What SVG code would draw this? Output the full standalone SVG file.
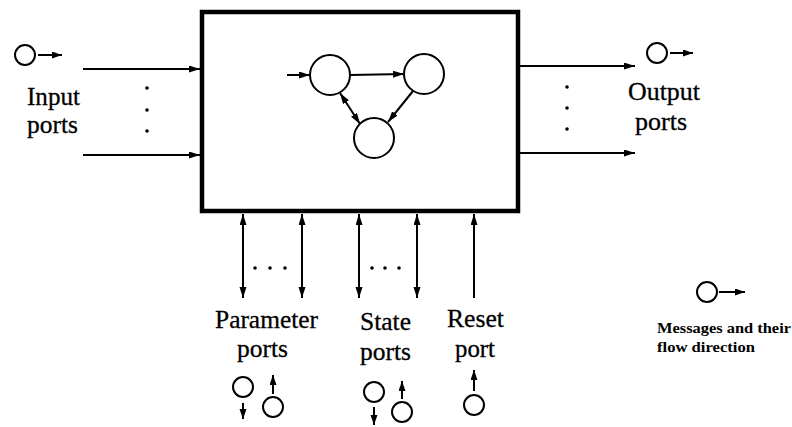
<svg xmlns="http://www.w3.org/2000/svg" width="792" height="427" viewBox="0 0 792 427">
<style>
.ln{stroke:#000;stroke-width:2;fill:none}
.ar{marker-end:url(#ah)}
.dbl{marker-start:url(#ah);marker-end:url(#ah)}
.sm{marker-end:url(#sh)}
.nd{fill:#fff;stroke:#000;stroke-width:2}
.msg{fill:#fff;stroke:#000;stroke-width:2}
.lbl{font-family:"Liberation Serif","Times New Roman",serif;font-size:26px;fill:#000;stroke:#000;stroke-width:0.3}
.leg{font-family:"Liberation Serif","Times New Roman",serif;font-size:15px;font-weight:bold;fill:#000}
.dot{fill:#000}
</style>
<defs>
<marker id="ah" markerUnits="userSpaceOnUse" markerWidth="12" markerHeight="8" refX="11" refY="3.5" orient="auto-start-reverse"><path d="M0,0 L11,3.5 L0,7 z" fill="#000"/></marker>
<marker id="sh" markerUnits="userSpaceOnUse" markerWidth="11" markerHeight="8" refX="10" refY="3.5" orient="auto-start-reverse"><path d="M0,0 L10,3.5 L0,7 z" fill="#000"/></marker>
</defs>
<g id="block">
<rect x="202" y="12" width="316" height="199" fill="#fff" stroke="#000" stroke-width="4.5"/>
</g>
<g id="n1"><circle class="nd" cx="330" cy="75" r="20"/></g>
<g id="n2"><circle class="nd" cx="424" cy="74" r="20"/></g>
<g id="n3"><circle class="nd" cx="374" cy="138" r="20"/></g>
<g id="connectors">
<line class="ln ar" x1="287" y1="75" x2="310" y2="75"/>
<line class="ln ar" x1="350" y1="75" x2="404" y2="74"/>
<line class="ln ar" x1="413" y1="91" x2="388" y2="122"/>
<line class="ln dbl" x1="340" y1="93" x2="360" y2="124"/>
<line class="ln ar" x1="83" y1="69" x2="200" y2="69"/>
<line class="ln ar" x1="83" y1="155" x2="200" y2="155"/>
<line class="ln ar" x1="520" y1="66" x2="635" y2="66"/>
<line class="ln ar" x1="520" y1="153" x2="635" y2="153"/>
<line class="ln dbl" x1="243" y1="214" x2="243" y2="298"/>
<line class="ln dbl" x1="302" y1="214" x2="302" y2="298"/>
<line class="ln dbl" x1="359" y1="214" x2="359" y2="298"/>
<line class="ln dbl" x1="417" y1="214" x2="417" y2="298"/>
<line class="ln" x1="474" y1="298" x2="474" y2="214" style="marker-end:url(#ah)"/>
</g>
<g id="dots">
<circle class="dot" cx="147" cy="88" r="1.8"/><circle class="dot" cx="147" cy="110" r="1.8"/><circle class="dot" cx="147" cy="131" r="1.8"/>
<circle class="dot" cx="567" cy="87" r="1.8"/><circle class="dot" cx="567" cy="108" r="1.8"/><circle class="dot" cx="567" cy="129" r="1.8"/>
<circle class="dot" cx="255" cy="268" r="1.8"/><circle class="dot" cx="270" cy="268" r="1.8"/><circle class="dot" cx="285" cy="268" r="1.8"/>
<circle class="dot" cx="372" cy="268" r="1.8"/><circle class="dot" cx="385" cy="268" r="1.8"/><circle class="dot" cx="399" cy="268" r="1.8"/>
</g>
<g id="input-ports">
<text class="lbl" x="27" y="105" textLength="53" lengthAdjust="spacingAndGlyphs">Input</text>
<text class="lbl" x="27" y="133" textLength="51" lengthAdjust="spacingAndGlyphs">ports</text>
<circle class="msg" cx="25" cy="55" r="10"/>
<line class="ln sm" x1="38" y1="55" x2="62" y2="55"/>
</g>
<g id="output-ports">
<text class="lbl" x="628" y="100" textLength="72" lengthAdjust="spacingAndGlyphs">Output</text>
<text class="lbl" x="635" y="130" textLength="52" lengthAdjust="spacingAndGlyphs">ports</text>
<circle class="msg" cx="657" cy="53" r="10"/>
<line class="ln sm" x1="670" y1="53" x2="693" y2="53"/>
</g>
<g id="parameter-ports">
<text class="lbl" x="215" y="328" textLength="103" lengthAdjust="spacingAndGlyphs">Parameter</text>
<text class="lbl" x="237" y="357" textLength="51" lengthAdjust="spacingAndGlyphs">ports</text>
<circle class="msg" cx="243" cy="387" r="10"/>
<line class="ln sm" x1="243" y1="403" x2="243" y2="419"/>
<line class="ln sm" x1="273" y1="394" x2="273" y2="375"/>
<circle class="msg" cx="273" cy="407" r="10"/>
</g>
<g id="state-ports">
<text class="lbl" x="360" y="330" textLength="51" lengthAdjust="spacingAndGlyphs">State</text>
<text class="lbl" x="360" y="360" textLength="51" lengthAdjust="spacingAndGlyphs">ports</text>
<circle class="msg" cx="374" cy="392" r="10"/>
<line class="ln sm" x1="374" y1="407" x2="374" y2="425"/>
<line class="ln sm" x1="402" y1="399" x2="402" y2="381"/>
<circle class="msg" cx="402" cy="412" r="10"/>
</g>
<g id="reset-port">
<text class="lbl" x="447" y="327" textLength="57" lengthAdjust="spacingAndGlyphs">Reset</text>
<text class="lbl" x="455" y="357" textLength="40" lengthAdjust="spacingAndGlyphs">port</text>
<line class="ln sm" x1="474" y1="391" x2="474" y2="370"/>
<circle class="msg" cx="474" cy="405" r="10"/>
</g>
<g id="legend">
<circle class="msg" cx="707" cy="292" r="10"/>
<line class="ln sm" x1="719" y1="292" x2="745" y2="292"/>
<text class="leg" x="657" y="333" textLength="134" lengthAdjust="spacingAndGlyphs">Messages and their</text>
<text class="leg" x="657" y="352" textLength="98" lengthAdjust="spacingAndGlyphs">flow direction</text>
</g>
</svg>
